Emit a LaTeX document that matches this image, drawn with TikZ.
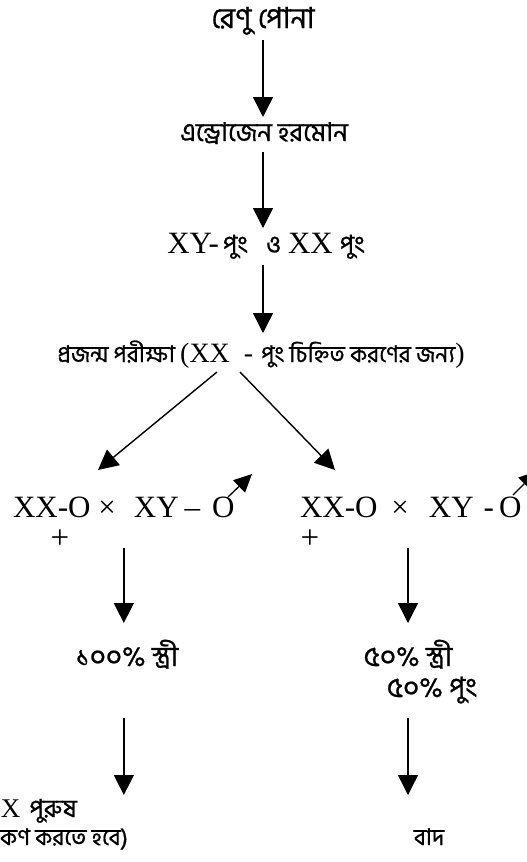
\documentclass[tikz,border=0pt]{standalone}
\usepackage{fontspec}
\usetikzlibrary{arrows.meta}
\setmainfont{Liberation Serif}
\newfontfamily\bn[Script=Bengali,FakeBold=0.8]{Hind Siliguri}
\newcommand\lat[2]{{\rmfamily\fontsize{#1}{#1}\selectfont #2}}
\newcommand\bsz[1]{\bn\fontsize{#1}{#1}\selectfont}
\tikzset{
  tx/.style={inner sep=0pt, outer sep=0pt, anchor=base},
  bnode/.style={tx, font=\bsz{#1}, text height=16pt, text depth=4pt},
  bnode/.default=23,
  cross/.style={tx, anchor=base west, font=\fontsize{31}{31}\selectfont, text height=23pt, text depth=1pt},
  plus/.style={tx, anchor=center, font=\fontsize{33}{33}\selectfont},
  arr/.style={line width=1.4pt, -{Triangle[width=20pt,length=20pt]}},
  marr/.style={line width=1.3pt, -{Triangle[width=17pt,length=18pt]}},
}
\begin{document}
\begin{tikzpicture}[x=1pt,y=-1pt]
\useasboundingbox (0,0) rectangle (527,862);
\clip (0,0) rectangle (527,862);
% texts
\node[bnode=29] (n1) at (263,28) {রেণু পোনা};
\node[bnode=26] (n2) at (264,141) {এন্ড্রোজেন হরমোন};
\node[bnode=25, text height=22pt] (n3) at (266,253) {\lat{31}{XY-}\hspace{4pt}পুং\hspace{18pt}ও\hspace{7pt}\lat{31}{XX}\hspace{7pt}পুং};
\node[bnode=23, text height=20pt] (n4) at (261,362) {প্রজন্ম পরীক্ষা \lat{28}{(XX}\hspace{14pt}\lat{28}{-}\hspace{8pt}পুং চিহ্নিত করণের জন্য\lat{28}{)}};
\node[cross] (r5L) at (13,517) {XX-O\hspace{8pt}×\hspace{18pt}XY\hspace{6pt}–\hspace{12pt}O};
\node[cross] (r5R) at (300,517) {XX-O\hspace{14pt}×\hspace{20pt}XY\hspace{10pt}-\hspace{5pt}O};
\node[plus] (p1) at (60,539) {+};
\node[plus] (p2) at (310,539) {+};
\node[bnode=28] (n6L) at (127,666) {১০০\% স্ত্রী};
\node[bnode=28] (n6Ra) at (408,666) {৫০\% স্ত্রী};
\node[bnode=28] (n6Rb) at (432,697) {৫০\% পুং};
\node[bnode=25, anchor=base west, text height=18pt] (n7La) at (1,817) {\lat{27}{X}\hspace{9pt}পুরুষ};
\node[bnode=23, anchor=base west] (n7Lb) at (0,845) {কণ করতে হবে)};
\node[bnode=23] (n7R) at (429,845) {বাদ};
% coordinates for free ends
\coordinate (dls) at (217,372);
\coordinate (dle) at (98,470);
\coordinate (drs) at (240,372);
\coordinate (dre) at (335,470);
\coordinate (m1s) at (228,497);
\coordinate (m1e) at (252,474);
\coordinate (m2s) at (513,495);
\coordinate (m2e) at (537,471);
% connectors
\draw[arr, shorten <=8pt, shorten >=8pt] (n1.south) -- (n1.south |- n2.north);
\draw[arr, shorten <=7pt, shorten >=3pt] (n1.south |- n2.south) -- (n1.south |- n3.north);
\draw[arr, shorten <=8pt, shorten >=9pt] (n1.south |- n3.south) -- (n1.south |- n4.north);
\draw[arr] (dls) -- (dle);
\draw[arr] (drs) -- (dre);
\draw[marr] (m1s) -- (m1e);
\draw[marr] (m2s) -- (m2e);
\draw[arr, shorten <=30pt, shorten >=27pt] (r5L.south) -- (r5L.south |- n6L.north);
\draw[arr, shorten <=30pt, shorten >=27pt] (n6Ra.north |- r5R.south) -- (n6Ra.north);
\draw[arr, shorten <=48pt, shorten >=4pt] (r5L.south |- n6L.south) -- (r5L.south |- n7La.north);
\draw[arr, shorten <=17pt, shorten >=34pt] (n6Ra.north |- n6Rb.south) -- (n6Ra.north |- n7R.north);
\end{tikzpicture}
\end{document}
